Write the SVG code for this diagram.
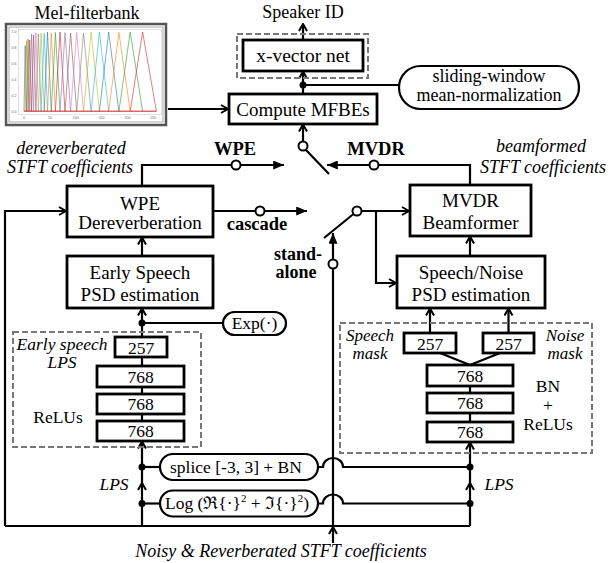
<svg xmlns="http://www.w3.org/2000/svg" width="609" height="563" viewBox="0 0 609 563">
<defs>
<style>
.t{font-family:"Liberation Serif","Times New Roman","DejaVu Serif",serif;font-size:19px;text-anchor:middle;fill:#000}
.i{font-style:italic;font-size:18px}
.b{font-weight:bold;font-size:18.5px}
.s{font-size:17.5px}
.box{fill:#fff;stroke:#000;stroke-width:2.8}
.pill{fill:#fff;stroke:#000;stroke-width:2.2}
.dash{fill:none;stroke:#777;stroke-width:2;stroke-dasharray:6 3}
.ln line,.ln polyline,.ln path{fill:none;stroke:#000;stroke-width:2.2}
.dot{fill:#000;stroke:none}
.term{fill:#fff;stroke:#000;stroke-width:2}
.f{fill:none;stroke-width:1;opacity:0.6}
.tk{font-family:"Liberation Sans",Arial,sans-serif;font-size:3.5px;fill:#666;text-anchor:middle}
</style>
<marker id="open" viewBox="0 0 10 10" refX="9" refY="5" markerWidth="10" markerHeight="10" markerUnits="userSpaceOnUse" orient="auto"><path d="M2,1 L9,5 L2,9" fill="none" stroke="#000" stroke-width="2"/></marker>
<marker id="solid" viewBox="0 0 12 10" refX="12" refY="5" markerWidth="12" markerHeight="9" markerUnits="userSpaceOnUse" orient="auto"><path d="M0,0 L12,5 L0,10 Z" fill="#000"/></marker>
</defs>
<rect width="609" height="563" fill="#fff"/>

<g id="connectors" class="ln">
<line x1="168" y1="109" x2="228" y2="109" marker-end="url(#open)"/>
<line x1="303" y1="94" x2="303" y2="71.5" marker-end="url(#open)"/>
<line x1="303" y1="85" x2="399" y2="85"/>
<line x1="303" y1="40" x2="303" y2="24" marker-end="url(#open)"/>
<line x1="303" y1="141.5" x2="303" y2="124.5" marker-end="url(#open)"/>
<line x1="305.5" y1="149.5" x2="329" y2="174"/>
<polyline points="142,186 142,165 284,165" marker-end="url(#solid)"/>
<polyline points="470,185 470,165 327,165" marker-end="url(#solid)"/>
<line x1="213" y1="211" x2="307" y2="211" marker-end="url(#solid)"/>
<line x1="324" y1="238" x2="353.5" y2="214"/>
<line x1="361.5" y1="211" x2="409" y2="211" marker-end="url(#open)"/>
<polyline points="376,211 376,283 396,283" marker-end="url(#open)"/>
<line x1="333" y1="259.5" x2="333" y2="233" marker-end="url(#solid)"/>
<line x1="333" y1="543" x2="333" y2="527" marker-end="url(#open)"/>
<line x1="333" y1="527" x2="333" y2="268.5"/>
<polyline points="5,526 5,211 66,211" marker-end="url(#open)"/>
<line x1="5" y1="526" x2="470" y2="526"/>
<line x1="142" y1="526" x2="142" y2="483" marker-end="url(#open)"/>
<line x1="142" y1="483" x2="142" y2="441.5" marker-end="url(#open)"/>
<line x1="470" y1="526" x2="470" y2="483" marker-end="url(#open)"/>
<line x1="470" y1="483" x2="470" y2="442.5" marker-end="url(#open)"/>
<line x1="142" y1="467" x2="160" y2="467"/>
<line x1="142" y1="503.5" x2="160" y2="503.5"/>
<path d="M318,467 H323 A10,9 0 0 1 343,467 H470"/>
<path d="M318,503.5 H323 A10,9 0 0 1 343,503.5 H470"/>
<line x1="142" y1="441" x2="142" y2="337"/>
<line x1="142" y1="337" x2="142" y2="308.5" marker-end="url(#open)"/>
<line x1="142" y1="323" x2="223" y2="323"/>
<line x1="142" y1="256" x2="142" y2="237.5" marker-end="url(#open)"/>
<line x1="470" y1="442" x2="470" y2="365"/>
<line x1="470" y1="365" x2="440" y2="353"/>
<line x1="470" y1="365" x2="500" y2="353"/>
<line x1="430" y1="333" x2="430" y2="308.5" marker-end="url(#open)"/>
<line x1="508.5" y1="333" x2="508.5" y2="308.5" marker-end="url(#open)"/>
<line x1="470" y1="256" x2="470" y2="236.5" marker-end="url(#open)"/>
<circle class="dot" cx="303" cy="85" r="3.5"/>
<circle class="dot" cx="142" cy="323" r="3.5"/>
<circle class="dot" cx="142" cy="467" r="3.5"/>
<circle class="dot" cx="142" cy="503.5" r="3.5"/>
<circle class="dot" cx="470" cy="467" r="3.5"/>
<circle class="dot" cx="470" cy="503.5" r="3.5"/>
<circle class="term" cx="303" cy="146" r="4.5"/>
<circle class="term" cx="236" cy="165" r="4.5"/>
<circle class="term" cx="374" cy="165" r="4.5"/>
<circle class="term" cx="260" cy="211" r="4.5"/>
<circle class="term" cx="357" cy="211" r="4.5"/>
<circle class="term" cx="333" cy="264" r="4.5"/>
</g>

<g id="mel-filterbank">
<text class="t" x="87" y="19" style="font-size:18px">Mel-filterbank</text>
<rect x="6" y="24" width="160" height="101" fill="#fff" stroke="#555" stroke-width="2.5"/>
<rect x="9" y="27" width="154" height="95" fill="none" stroke="#aaa" stroke-width="1"/>
<rect x="18.5" y="29.5" width="143" height="85" fill="none" stroke="#ccc" stroke-width="0.6"/>
<polyline class="f" stroke="#1f77b4" points="24,111.3 25.2,45.5 26.6,111.3"/>
<polyline class="f" stroke="#ff7f0e" points="25.2,111.3 26.6,40.7 28.1,111.3"/>
<polyline class="f" stroke="#2ca02c" points="26.6,111.3 28.1,39.1 29.7,111.3"/>
<polyline class="f" stroke="#d62728" points="28.1,111.3 29.7,39.9 31.6,111.3"/>
<polyline class="f" stroke="#9467bd" points="29.7,111.3 31.6,34 33.6,111.3"/>
<polyline class="f" stroke="#8c564b" points="31.6,111.3 33.6,35 35.9,111.3"/>
<polyline class="f" stroke="#e377c2" points="33.6,111.3 35.9,32.5 38.4,111.3"/>
<polyline class="f" stroke="#7f7f7f" points="35.9,111.3 38.4,34 41.1,111.3"/>
<polyline class="f" stroke="#bcbd22" points="38.4,111.3 41.1,33 44.2,111.3"/>
<polyline class="f" stroke="#17becf" points="41.1,111.3 44.2,33.5 47.5,111.3"/>
<polyline class="f" stroke="#1f77b4" points="44.2,111.3 47.5,32 51.3,111.3"/>
<polyline class="f" stroke="#ff7f0e" points="47.5,111.3 51.3,33 55.4,111.3"/>
<polyline class="f" stroke="#2ca02c" points="51.3,111.3 55.4,32.5 60,111.3"/>
<polyline class="f" stroke="#d62728" points="55.4,111.3 60,32 65,111.3"/>
<polyline class="f" stroke="#9467bd" points="60,111.3 65,32.5 70.6,111.3"/>
<polyline class="f" stroke="#8c564b" points="65,111.3 70.6,33 76.7,111.3"/>
<polyline class="f" stroke="#e377c2" points="70.6,111.3 76.7,32.5 83.5,111.3"/>
<polyline class="f" stroke="#7f7f7f" points="76.7,111.3 83.5,33 91.1,111.3"/>
<polyline class="f" stroke="#bcbd22" points="83.5,111.3 91.1,32 99.4,111.3"/>
<polyline class="f" stroke="#17becf" points="91.1,111.3 99.4,32 108.7,111.3"/>
<polyline class="f" stroke="#1f77b4" points="99.4,111.3 108.7,32 118.9,111.3"/>
<polyline class="f" stroke="#ff7f0e" points="108.7,111.3 118.9,32.5 130.2,111.3"/>
<polyline class="f" stroke="#2ca02c" points="118.9,111.3 130.2,32 142.6,111.3"/>
<polyline class="f" stroke="#d62728" points="130.2,111.3 142.6,32 156.4,111.3"/>
<line x1="24" y1="111.3" x2="156.4" y2="111.3" stroke="#d62728" stroke-width="1.5" opacity="0.7"/>
<text class="tk" x="14" y="33.2">1.0</text>
<text class="tk" x="14" y="49.1">0.8</text>
<text class="tk" x="14" y="64.9">0.6</text>
<text class="tk" x="14" y="80.8">0.4</text>
<text class="tk" x="14" y="96.6">0.2</text>
<text class="tk" x="14" y="112.5">0.0</text>
<text class="tk" x="24" y="119">0</text>
<text class="tk" x="49.9" y="119">50</text>
<text class="tk" x="75.7" y="119">100</text>
<text class="tk" x="101.6" y="119">150</text>
<text class="tk" x="127.5" y="119">200</text>
<text class="tk" x="153.3" y="119">250</text>
</g>

<g id="speaker-id"><text class="t" x="303" y="18" style="font-size:18px">Speaker ID</text></g>

<g id="xvector">
<rect class="dash" x="237" y="34" width="131" height="44"/>
<rect class="box" x="243" y="40" width="120" height="31"/>
<text class="t" x="303" y="62" style="font-size:19.5px">x-vector net</text>
</g>

<g id="sliding-window">
<rect class="pill" x="399" y="66" width="180" height="43" rx="21.5"/>
<text class="t" x="489" y="81.5" style="font-size:18px">sliding-window</text>
<text class="t" x="489" y="100.5" style="font-size:18px">mean-normalization</text>
</g>

<g id="mfbe">
<rect class="box" x="229" y="94" width="148" height="30"/>
<text class="t" x="303" y="115.5">Compute MFBEs</text>
</g>

<g id="labels-switch">
<text class="t b" x="235" y="155">WPE</text>
<text class="t b" x="376" y="155">MVDR</text>
<text class="t i" x="71" y="154">dereverberated</text>
<text class="t i" x="70" y="173">STFT coefficients</text>
<text class="t i" x="541" y="152">beamformed</text>
<text class="t i" x="543" y="173">STFT coefficients</text>
<text class="t b" x="257" y="230">cascade</text>
<text class="t b" x="298" y="259.5" style="font-size:18px">stand-</text>
<text class="t b" x="296" y="278" style="font-size:18px">alone</text>
</g>

<g id="wpe">
<rect class="box" x="67" y="186" width="146" height="51"/>
<text class="t" x="140" y="210">WPE</text>
<text class="t" x="140" y="229">Dereverberation</text>
</g>

<g id="early-psd">
<rect class="box" x="67" y="256" width="146" height="52"/>
<text class="t" x="140" y="279">Early Speech</text>
<text class="t" x="140" y="301">PSD estimation</text>
</g>

<g id="exp">
<rect class="pill" x="223" y="312" width="63" height="23" rx="11.5"/>
<text class="t s" x="254.5" y="329">Exp(·)</text>
</g>

<g id="dnn-left">
<rect class="dash" x="13" y="332" width="188" height="115"/>
<rect class="box" x="115" y="337" width="52" height="20"/>
<text class="t s" x="141" y="354">257</text>
<rect class="box" x="97" y="366" width="87" height="21"/>
<text class="t s" x="140.5" y="383">768</text>
<rect class="box" x="97" y="394" width="87" height="20"/>
<text class="t s" x="140.5" y="410">768</text>
<rect class="box" x="97" y="421" width="87" height="20"/>
<text class="t s" x="140.5" y="437">768</text>
<text class="t i s" x="62" y="349.5">Early speech</text>
<text class="t i s" x="62" y="368">LPS</text>
<text class="t s" x="58" y="423">ReLUs</text>
</g>

<g id="mvdr">
<rect class="box" x="410" y="185" width="121" height="51"/>
<text class="t" x="470.5" y="207">MVDR</text>
<text class="t" x="470.5" y="229">Beamformer</text>
</g>

<g id="sn-psd">
<rect class="box" x="397" y="256" width="148" height="52"/>
<text class="t" x="471" y="279">Speech/Noise</text>
<text class="t" x="471" y="301">PSD estimation</text>
</g>

<g id="dnn-right">
<rect class="dash" x="340" y="323" width="252" height="130"/>
<rect class="box" x="404" y="333" width="52" height="20"/>
<text class="t s" x="430" y="350">257</text>
<rect class="box" x="483" y="333" width="51" height="20"/>
<text class="t s" x="508.5" y="350">257</text>
<rect class="box" x="427" y="365" width="86" height="21"/>
<text class="t s" x="470" y="382">768</text>
<rect class="box" x="427" y="393" width="86" height="20"/>
<text class="t s" x="470" y="409">768</text>
<rect class="box" x="427" y="422" width="86" height="20"/>
<text class="t s" x="470" y="438">768</text>
<text class="t i" x="370" y="340.5" style="font-size:17px">Speech</text>
<text class="t i" x="370" y="359" style="font-size:17px">mask</text>
<text class="t i" x="565" y="340.5" style="font-size:17px">Noise</text>
<text class="t i" x="565" y="359" style="font-size:17px">mask</text>
<text class="t s" x="548" y="391.5">BN</text>
<text class="t s" x="548" y="411">+</text>
<text class="t s" x="548" y="430">ReLUs</text>
</g>

<g id="splice">
<rect class="pill" x="160" y="454" width="158" height="26" rx="13"/>
<text class="t s" x="236" y="472.5">splice [-3, 3] + BN</text>
</g>

<g id="log">
<rect class="pill" x="160" y="490.5" width="158" height="26" rx="13"/>
<text class="t s" x="237" y="509">Log (ℜ{·}<tspan dy="-7" font-size="11">2</tspan><tspan dy="7"> + ℑ{·}</tspan><tspan dy="-7" font-size="11">2</tspan><tspan dy="7">)</tspan></text>
</g>

<g id="lps-labels">
<text class="t i s" x="114" y="490">LPS</text>
<text class="t i s" x="499" y="490">LPS</text>
</g>

<g id="input-label">
<text class="t i" x="281" y="557">Noisy &amp; Reverberated STFT coefficients</text>
</g>
</svg>
